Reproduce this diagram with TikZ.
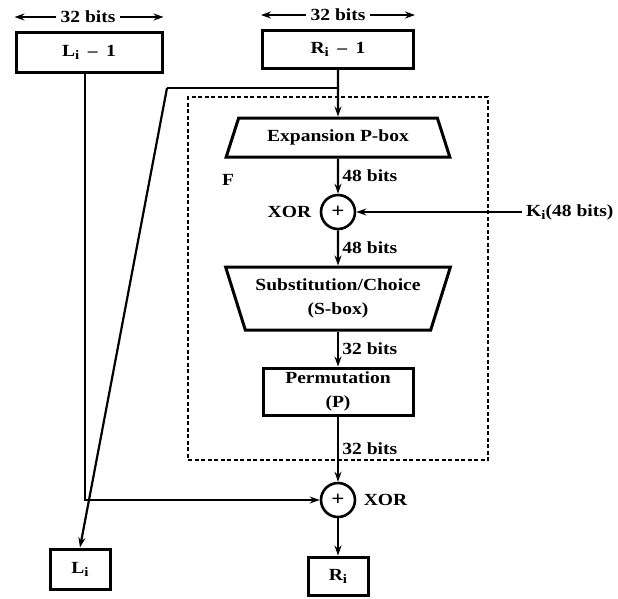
\documentclass[tikz,border=0pt]{standalone}
\usepackage{fontspec}
\setmainfont[FakeStretch=1.15]{Liberation Serif}
\usepackage{tikz}
\usetikzlibrary{shapes.geometric, arrows.meta, positioning, calc}
\newcommand{\lowi}{\raisebox{-0.4ex}{\fontsize{13}{13}\selectfont i}}

\begin{document}
\begin{tikzpicture}[x=1pt, y=-1pt, line width=2.4pt,
    font=\fontsize{17}{24}\selectfont\bfseries,
    box/.style={draw, line width=3pt, inner sep=0pt},
    arr/.style={-{Stealth[length=10pt, width=7pt]}, line width=2.2pt},
    xorc/.style={draw, circle, line width=2.6pt, minimum size=34pt, inner sep=0pt,
                 font=\fontsize{20}{20}\selectfont\bfseries},
    trap/.style={draw, trapezium, trapezium stretches=true, line width=3pt,
                 inner sep=0pt}]
  \useasboundingbox (0,0) rectangle (618,598);

  % round inputs
  \node[box, minimum width=146pt, minimum height=40pt] (Lprev) at (89,52) {L\lowi\enspace--\enspace1};
  \node[box, minimum width=151pt, minimum height=38pt] (Rprev) at (338,49) {R\lowi\enspace--\enspace1};
  \node (lbits) at (88,17) {32 bits};
  \node (rbits) at (338,15) {32 bits};
  \draw[arr] (lbits.west) -- (lbits -| Lprev.west);
  \draw[arr] (lbits.east) -- (lbits -| Lprev.east);
  \draw[arr] (rbits.west) -- (rbits -| Rprev.west);
  \draw[arr] (rbits.east) -- (rbits -| Rprev.east);

  % function F
  \node[draw, line width=2.2pt, dash pattern=on 4pt off 2.5pt,
        minimum width=300pt, minimum height=363pt] (Fbox) at (338,278.5) {};
  \node (flabel) at (228,180) {F};
  \node[trap, trapezium angle=60, minimum width=224pt, minimum height=39pt] (exp) at (338,137.5) {Expansion P-box};
  \node[xorc] (xor1) at (338,212) {+};
  \node[left=4pt of xor1] (xorlbl1) {XOR};
  \node[anchor=east] (ki) at (618,212) {K\lowi(48 bits)};
  \node[trap, shape border rotate=180, trapezium angle=66, minimum width=225pt,
        minimum height=63pt, align=center] (sbox) at (338,298.5) {Substitution/Choice\\(S-box)};
  \node[box, minimum width=150pt, minimum height=47pt, align=center] (perm) at (338,391.5) {Permutation\\(P)};

  % outputs
  \node[xorc] (xor2) at (338,500) {+};
  \node[right=3pt of xor2] (xorlbl2) {XOR};
  \node[box, minimum width=60pt, minimum height=38pt] (Rnew) at (338,576) {R\lowi};
  \node[box, minimum width=60pt, minimum height=40pt] (Lnew) at (80,569) {L\lowi};

  \coordinate (split) at (338,88);
  \coordinate (bend) at (167,88);

  \draw[arr] (Rprev) -- (exp);
  \draw[line width=2.2pt] (split) -- (bend);
  \draw[arr] (bend) -- (Lnew.north);
  \draw[arr] ([xshift=-4pt]Lprev.south) |- (xor2.west);
  \draw[arr] (exp) -- node[right] {48 bits} (xor1);
  \draw[arr] (ki) -- (xor1);
  \draw[arr] (xor1) -- node[right] {48 bits} (sbox);
  \draw[arr] (sbox) -- node[right] {32 bits} (perm);
  \draw[arr] (perm) -- node[right] {32 bits} (xor2);
  \draw[arr] (xor2) -- (Rnew);
\end{tikzpicture}
\end{document}
